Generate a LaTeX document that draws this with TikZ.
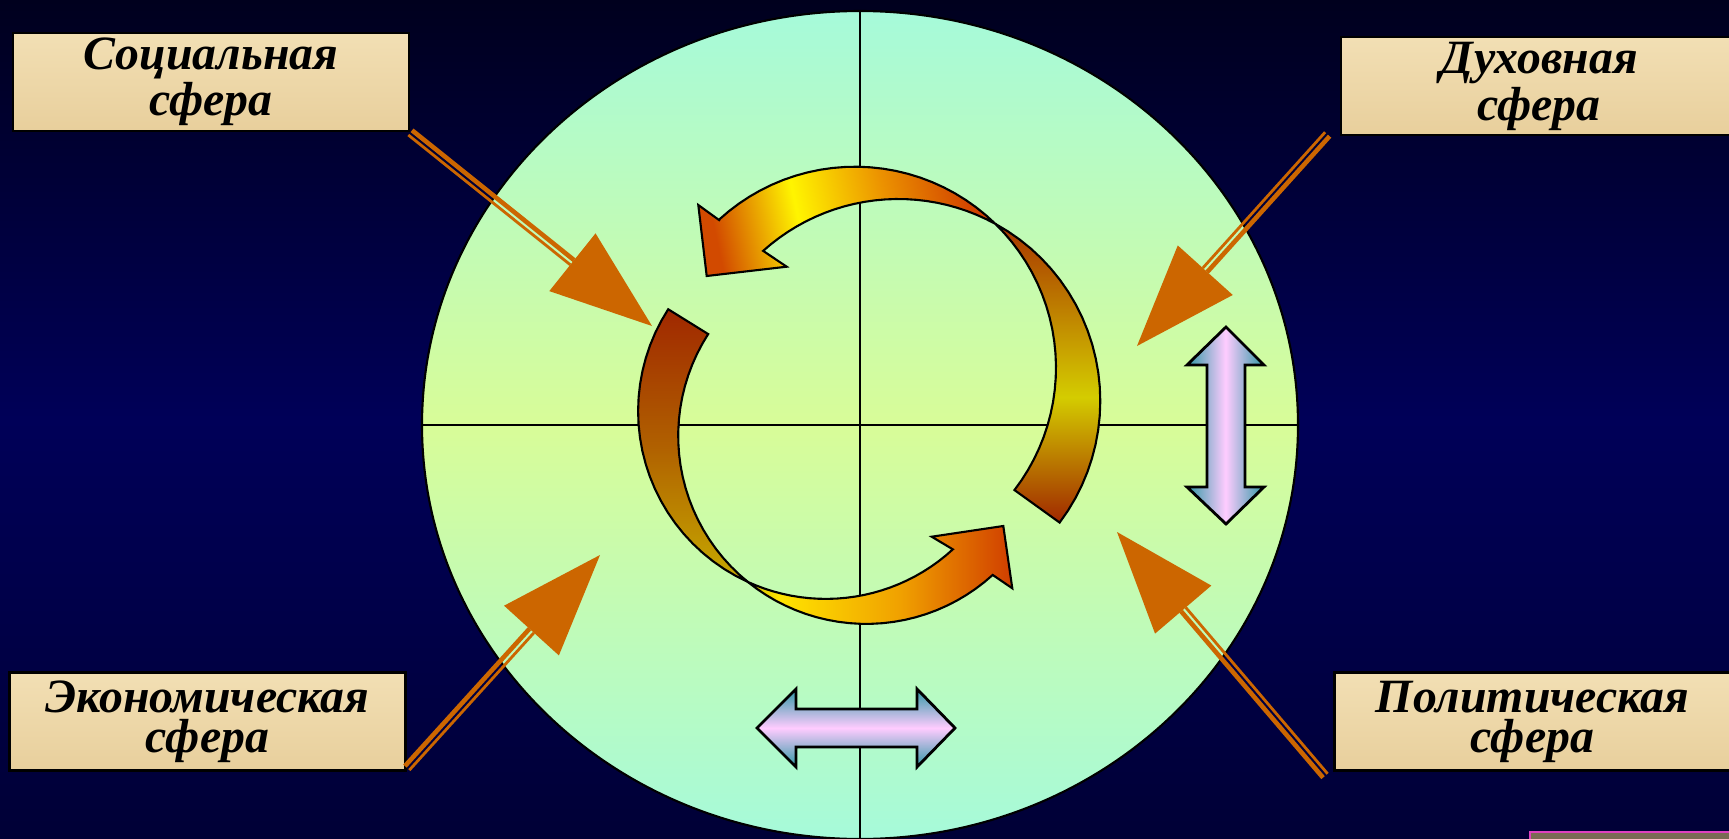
\documentclass[tikz,border=0pt]{standalone}
\usepackage{fontspec}
\setmainfont{Liberation Serif}
\usetikzlibrary{calc,shapes.geometric}

\definecolor{fonTop}{HTML}{00001E}
\definecolor{fonMid}{HTML}{000058}
\definecolor{fonBot}{HTML}{000036}
\definecolor{mint}{HTML}{A6FADA}
\definecolor{salat}{HTML}{D8FC98}
\definecolor{parchA}{HTML}{F2DFB4}
\definecolor{parchB}{HTML}{E8CF9C}
\definecolor{strelka}{HTML}{CC6600}
\definecolor{teal}{HTML}{2F98A6}
\definecolor{rozov}{HTML}{FFCCFF}
\definecolor{pink}{HTML}{E040C0}
\definecolor{korob}{HTML}{7A6A55}
\definecolor{krasn}{HTML}{D24A00}
\definecolor{krasnB}{HTML}{D03E00}
\definecolor{zholt}{HTML}{FFF500}
\definecolor{zholtC}{HTML}{FFE400}
\definecolor{oranzh}{HTML}{EC9200}
\definecolor{oranzhC}{HTML}{F0A000}
\definecolor{burA}{HTML}{A02800}
\definecolor{burB}{HTML}{A83400}
\definecolor{olivB}{HTML}{D4CC00}
\definecolor{olivC}{HTML}{CDB800}
\definecolor{olivD}{HTML}{C6AA00}
\definecolor{korich}{HTML}{B06000}

% shadings of the ring arrows
\pgfdeclarehorizontalshading{strelaA}{100bp}{color(0bp)=(krasn); color(25bp)=(krasn); color(41bp)=(zholt); color(58bp)=(oranzh); color(75bp)=(krasnB); color(100bp)=(krasnB)}
\pgfdeclareverticalshading{strelaB}{100bp}{color(0bp)=(burA); color(25bp)=(burA); color(46bp)=(olivB); color(75bp)=(burB); color(100bp)=(burB)}
\pgfdeclarehorizontalshading{strelaC}{100bp}{color(0bp)=(olivC); color(25bp)=(olivC); color(31bp)=(zholtC); color(54bp)=(oranzhC); color(75bp)=(krasnB); color(100bp)=(krasnB)}
\pgfdeclareverticalshading{strelaD}{100bp}{color(0bp)=(olivD); color(25bp)=(olivD); color(50bp)=(korich); color(75bp)=(burA); color(100bp)=(burA)}

\tikzset{
  sfera/.style={draw=black, line width=0.8pt, top color=parchA, bottom color=parchB,
    minimum width=39.6mm, minimum height=9.8mm, inner sep=0pt, align=center,
    font=\fontsize{13.6}{11.4}\selectfont\bfseries\itshape},
  krest/.style={draw=black, line width=0.6pt},
  shaft/.style={draw=strelka},
  kolco/.style={draw=black, line width=0.6pt},
  dvoj/.style={draw=black, line width=0.8pt}
}

\begin{document}
\begin{tikzpicture}[x=0.1mm, y=-0.1mm]
    % background
    \useasboundingbox (0,0) rectangle (1729,839);
    \shade[top color=fonTop, bottom color=fonBot, middle color=fonMid] (0,0) rectangle (1729,839);
    \draw[draw=pink, fill=korob, line width=0.8pt] (1530,832) rectangle (1760,870);

    % society circle
    \node[ellipse, draw=black, line width=0.6pt, top color=mint, bottom color=mint, middle color=salat,
      minimum width=87.6mm, minimum height=82.8mm, inner sep=0pt] (krug) at (860,425) {};
    \draw[krest] (krug.north) -- (krug.south);
    \draw[krest] (krug.west) -- (krug.east);

    % ring arrows
    \shadedraw[kolco, shading=strelaA, shading angle=12]
      (720,220.7) -- plot[domain=-132.6:-45.7] ({855+201*cos(\x)}, {367.7+201*sin(\x)})
      -- plot[domain=-61.3:-132] ({898.3+202*cos(\x)}, {401+202*sin(\x)})
      -- (786.7,266.7) -- (706.7,276) -- (698.3,205) -- cycle;
    \shadedraw[kolco, shading=strelaB]
      plot[domain=-45.7:37.5] ({855+201*cos(\x)}, {367.7+201*sin(\x)})
      -- plot[domain=37:-61.3] ({898.3+202*cos(\x)}, {401+202*sin(\x)}) -- cycle;
    \shadedraw[kolco, shading=strelaD]
      plot[domain=212.9:114.6] ({825.8+187.7*cos(\x)}, {411.2+187.7*sin(\x)})
      -- plot[domain=129.1:212.8] ({866.2+188*cos(\x)}, {435.9+188*sin(\x)}) -- cycle;
    \shadedraw[kolco, shading=strelaC]
      plot[domain=114.6:47.4] ({825.8+187.7*cos(\x)}, {411.2+187.7*sin(\x)})
      -- (931.7,536.7) -- (1003.3,526) -- (1012.3,588.3)
      -- plot[domain=47.7:129.1] ({866.2+188*cos(\x)}, {435.9+188*sin(\x)}) -- cycle;

    % two-way arrows
    \shadedraw[dvoj, top color=teal, bottom color=teal, middle color=rozov]
      (757,728) -- (796,689) -- (796,709) -- (917,709) -- (917,689) -- (955,728)
      -- (917,767) -- (917,747) -- (796,747) -- (796,767) -- cycle;
    \shadedraw[dvoj, left color=teal, right color=teal, middle color=rozov]
      (1226,327) -- (1264,365) -- (1245,365) -- (1245,487) -- (1264,487) -- (1226,524)
      -- (1187,487) -- (1207,487) -- (1207,365) -- (1187,365) -- cycle;

    % spheres
    \node[sfera] (soc) at (211,82) {Социальная\\сфера};
    \node[sfera] (dux) at (1539,86) {Духовная\\сфера};
    \node[sfera] (eco) at (207.5,721.5) {Экономическая\\сфера};
    \node[sfera] (pol) at (1532.5,721.5) {Политическая\\сфера};

    \coordinate (ssoc) at (soc.south east);
    \coordinate (sdux) at ([xshift=-1.2mm, yshift=0.2mm]dux.south west);
    \coordinate (seco) at ([yshift=0.4mm]eco.south east);
    \coordinate (spol) at ([xshift=-0.8mm, yshift=-0.4mm]pol.south west);
    \coordinate (tsoc) at (652,326);
    \coordinate (tdux) at (1137,346);
    \coordinate (teco) at (600,555);
    \coordinate (tpol) at (1117,532);

    \foreach \s/\t in {ssoc/tsoc, sdux/tdux, seco/teco, spol/tpol} {
        \coordinate (b) at ($(\t)!10.2mm!(\s)$);
        \draw[shaft, line width=1.3pt] ($(\s)!0.27mm!90:(b)$) -- ($(b)!0.27mm!-90:(\s)$);
        \draw[shaft, line width=0.8pt] ($(\s)!0.33mm!-90:(b)$) -- ($(b)!0.33mm!90:(\s)$);
        \fill[strelka] ($(b)!3.7mm!90:(\t)$) -- (\t) -- ($(b)!3.7mm!-90:(\t)$) -- cycle;
    }
\end{tikzpicture}
\end{document}
